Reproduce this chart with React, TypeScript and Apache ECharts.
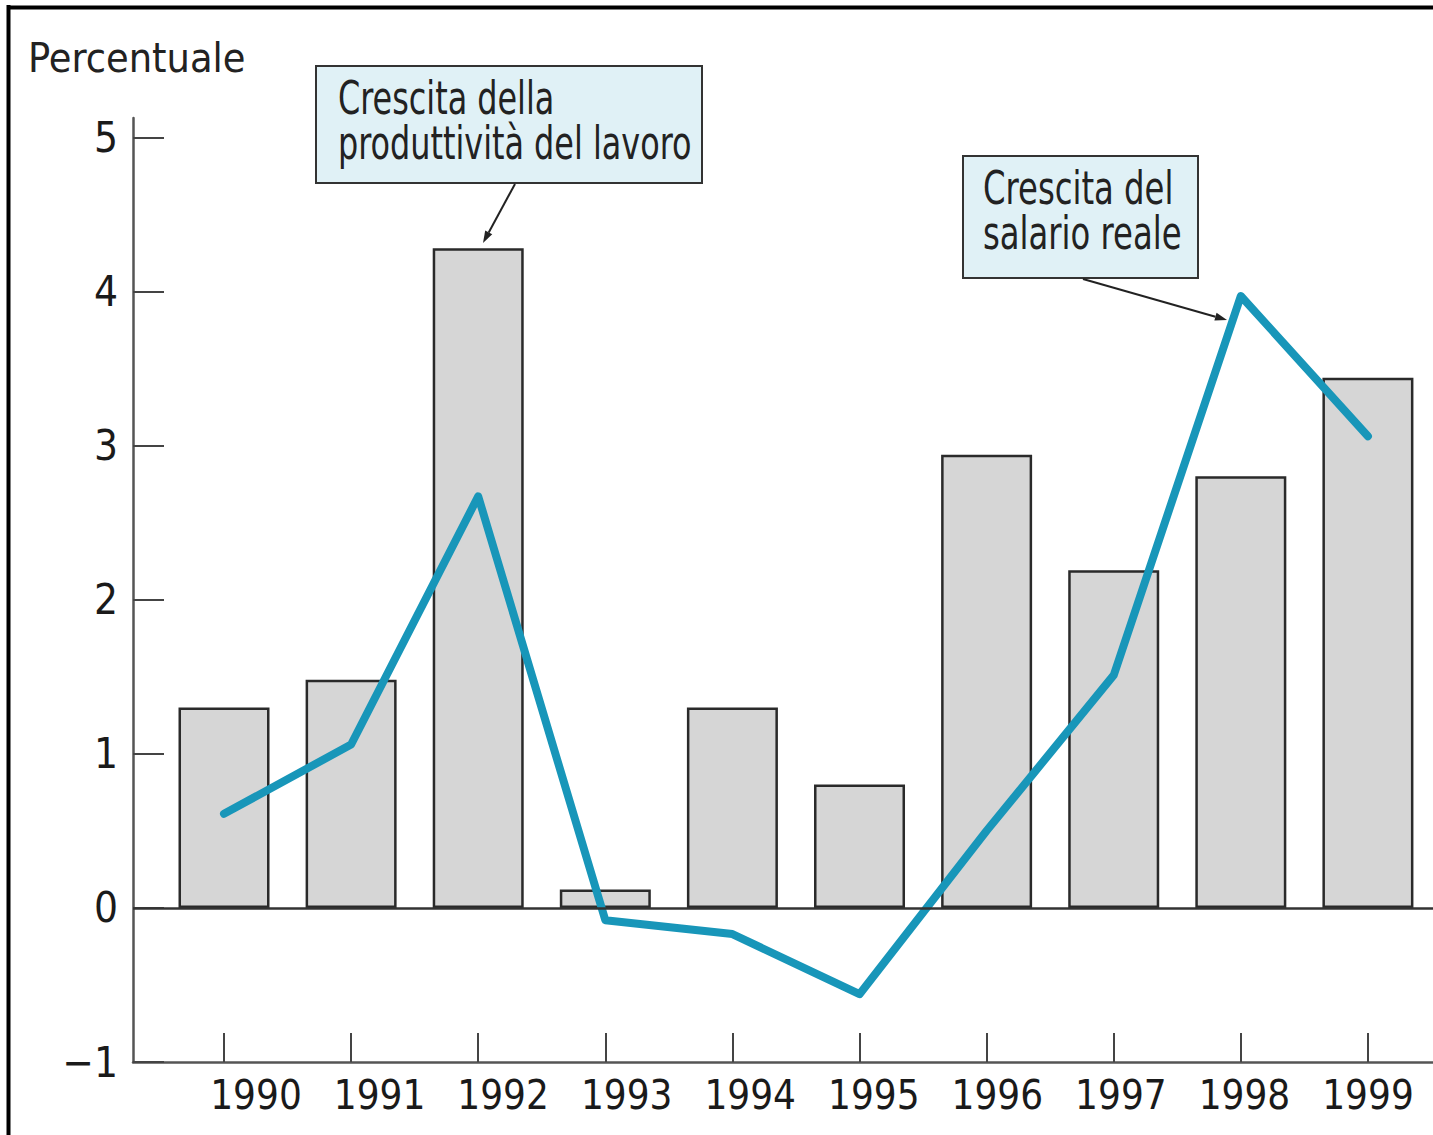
import React, { useEffect, useRef } from "react";
import * as echarts from "echarts";

const years = [1990, 1991, 1992, 1993, 1994, 1995, 1996, 1997, 1998, 1999];
const productivityGrowth = [1.3, 1.48, 4.28, 0.12, 1.3, 0.8, 2.94, 2.19, 2.8, 3.44];
const realWageGrowth = [0.61, 1.06, 2.67, -0.08, -0.17, -0.56, 0.5, 1.51, 3.97, 3.06];
const yTicks = [-1, 0, 1, 2, 3, 4, 5];

const FONT = "'Liberation Sans Narrow', 'DejaVu Sans Condensed', 'Roboto', sans-serif";

function arrow(x1: number, y1: number, x2: number, y2: number) {
  const dx = x2 - x1;
  const dy = y2 - y1;
  const len = Math.sqrt(dx * dx + dy * dy);
  const ux = dx / len;
  const uy = dy / len;
  const hl = 12;
  const hw = 4;
  const bx = x2 - ux * hl;
  const by = y2 - uy * hl;
  return [
    {
      type: "line",
      shape: { x1, y1, x2: bx, y2: by },
      style: { stroke: "#222", lineWidth: 2 },
    },
    {
      type: "polygon",
      shape: {
        points: [
          [x2, y2],
          [bx - uy * hw, by + ux * hw],
          [bx + uy * hw, by - ux * hw],
        ],
      },
      style: { fill: "#222" },
    },
  ];
}

export default function App() {
  const ref = useRef<HTMLDivElement>(null);

  useEffect(() => {
    if (!ref.current) return;
    const chart = echarts.init(ref.current, null, { renderer: "svg" });
    const label = (x: number, y: number, text: string, size: number, sx: number) => ({
      type: "text",
      x,
      y,
      scaleX: sx,
      style: {
        text,
        fontSize: size,
        fontFamily: FONT,
        fill: "#222",
        align: "left",
        verticalAlign: "middle",
      },
    });

    chart.setOption({
      animation: false,
      backgroundColor: "#ffffff",
      grid: { left: 133, right: 0, top: 118, bottom: 73, containLabel: false },
      xAxis: [
        {
          type: "value",
          position: "bottom",
          min: 1989.284,
          max: 1999.512,
          axisLine: { show: true, onZero: false, lineStyle: { color: "#555", width: 2.5 } },
          axisTick: {
            show: true,
            inside: true,
            length: 29,
            customValues: years,
            lineStyle: { color: "#444", width: 2 },
          },
          axisLabel: { show: false },
          splitLine: { show: false },
        },
        {
          type: "value",
          position: "bottom",
          min: 1989.0045,
          max: 1999.526,
          axisLine: { show: false, onZero: false },
          axisTick: { show: false },
          axisLabel: {
            show: true,
            customValues: years,
            formatter: (v: number) => String(Math.round(v)),
            fontSize: 40,
            fontFamily: FONT,
            color: "#1a1a1a",
            margin: 13,
          },
          splitLine: { show: false },
        },
      ],
      yAxis: {
        type: "value",
        min: -1,
        max: 5.125,
        interval: 1,
        axisLine: { show: true, lineStyle: { color: "#555", width: 2.5 } },
        axisTick: {
          show: true,
          inside: true,
          length: 31,
          customValues: yTicks,
          lineStyle: { color: "#444", width: 2 },
        },
        axisLabel: {
          show: true,
          customValues: yTicks,
          formatter: (v: number) => (v < 0 ? "\u2212" + Math.abs(v) : String(v)),
          fontSize: 42,
          fontFamily: FONT,
          color: "#1a1a1a",
          margin: 15,
        },
        splitLine: { show: false },
      },
      series: [
        {
          type: "bar",
          xAxisIndex: 0,
          data: years.map((y, i) => [y, productivityGrowth[i]]),
          barWidth: 91,
          itemStyle: { color: "#d6d6d6", borderColor: "#2a2a2a", borderWidth: 2.5 },
          markLine: {
            silent: true,
            symbol: ["none", "none"],
            label: { show: false },
            lineStyle: { color: "#333", width: 2.5, type: "solid" },
            data: [{ yAxis: 0 }],
          },
          z: 2,
        },
        {
          type: "line",
          xAxisIndex: 0,
          data: years.map((y, i) => [y, realWageGrowth[i]]),
          showSymbol: false,
          symbol: "none",
          lineStyle: { color: "#1896b9", width: 8, cap: "round", join: "round" },
          z: 3,
        },
      ],
      graphic: [
        { type: "line", shape: { x1: 8.5, y1: 5, x2: 8.5, y2: 1135 }, style: { stroke: "#000", lineWidth: 4 } },
        { type: "line", shape: { x1: 7, y1: 7.5, x2: 1433, y2: 7.5 }, style: { stroke: "#000", lineWidth: 4 } },
        label(28, 58, "Percentuale", 41, 1),
        {
          type: "rect",
          shape: { x: 316, y: 66, width: 386, height: 117 },
          style: { fill: "#e0f1f6", stroke: "#333", lineWidth: 2 },
        },
        label(338, 98, "Crescita della", 46, 0.77),
        label(338, 143, "produttività del lavoro", 46, 0.77),
        ...arrow(515, 184, 483, 243),
        {
          type: "rect",
          shape: { x: 963, y: 156, width: 235, height: 122 },
          style: { fill: "#e0f1f6", stroke: "#333", lineWidth: 2 },
        },
        label(983, 188, "Crescita del", 46, 0.78),
        label(983, 233, "salario reale", 46, 0.78),
        ...arrow(1083, 279, 1227, 320),
      ],
    });
    return () => chart.dispose();
  }, []);

  return (
    <div
      ref={ref}
      style={{ position: "absolute", left: 0, top: 0, width: 1433, height: 1135 }}
    />
  );
}
